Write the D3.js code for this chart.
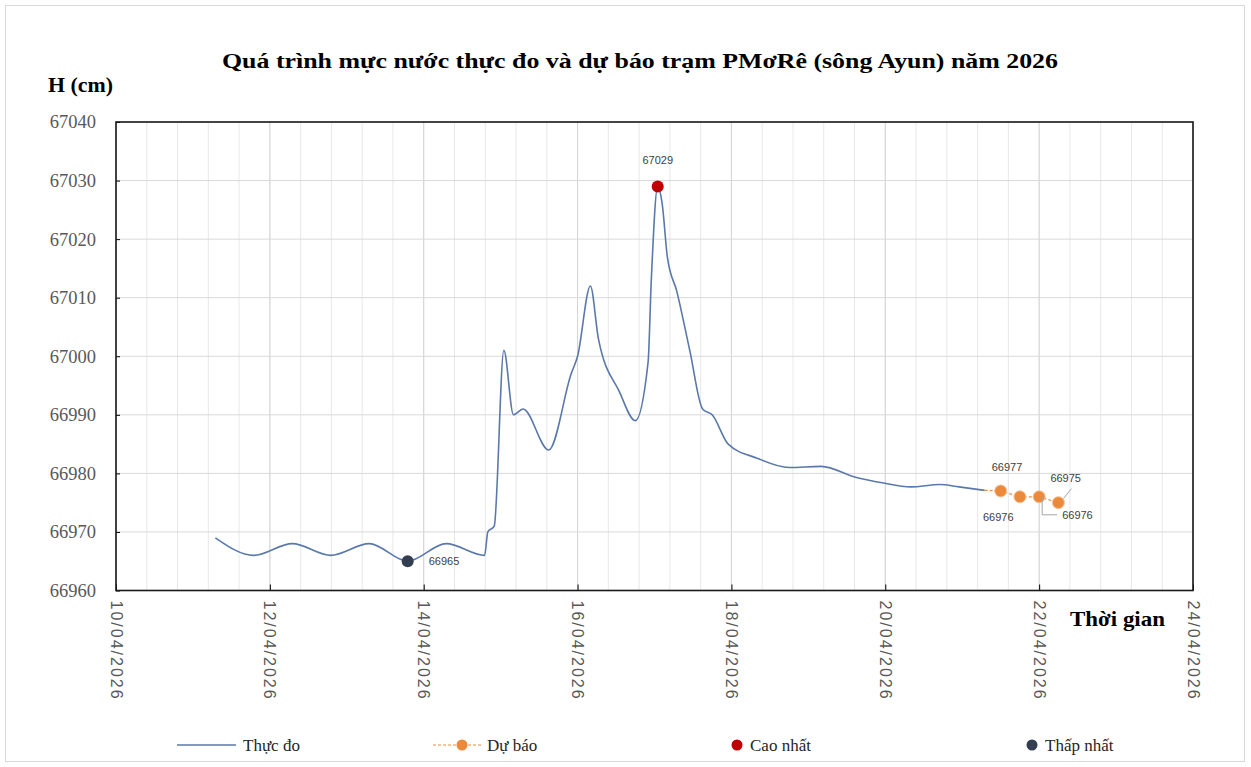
<!DOCTYPE html>
<html lang="vi">
<head>
<meta charset="UTF-8">
<title>Quá trình mực nước trạm PMơRê</title>
<script src="https://cdnjs.cloudflare.com/ajax/libs/d3/7.8.5/d3.min.js"></script>
<style>
    body { margin: 0; padding: 0; background: #ffffff; }
    svg { display: block; }
    .serif { font-family: "Liberation Serif", "Times New Roman", serif; }
    .tick-y { font-size: 18.5px; fill: #595959; }
    .tick-x { font-family: "Liberation Sans", Arial, sans-serif; font-size: 16px; fill: #595959; letter-spacing: 2px; }
    .pt-label { font-family: "Liberation Sans", Arial, sans-serif; font-size: 11px; fill: #404040; }
    .legend-text { font-size: 17px; fill: #262626; }
</style>
</head>
<body>
<svg width="1251" height="767"></svg>
<script>
// observed water level (thời gian: [ngày, giờ] tháng 4/2026)
const obsTimes = [
    [11, 7], [11, 19], [12, 7], [12, 19], [13, 7], [13, 19], [14, 7], [14, 19], [14, 20], [14, 22],
    [15, 1], [15, 4], [15, 7], [15, 15], [15, 22], [16, 0], [16, 4], [16, 6.5], [16, 13], [16, 18],
    [16, 22], [16, 23], [17, 1], [17, 2.4], [17, 4], [17, 7], [17, 11], [17, 15], [17, 18], [17, 23],
    [18, 8], [18, 18], [19, 4], [19, 15], [19, 23], [20, 8], [20, 17], [20, 23], [21, 7]
];
const obsValues = [
    66969, 66966, 66968, 66966, 66968, 66965, 66968, 66966, 66970, 66971,
    67001, 66990, 66991, 66984, 66997, 67000, 67012, 67003, 66994, 66989,
    66999, 67013, 67029, 67026, 67017, 67011, 67001, 66991, 66990, 66985,
    66982.6, 66981, 66981.2, 66979.3, 66978.4, 66977.7, 66978.1, 66977.7, 66977.1
];
// forecast
const fcTimes = [[21, 12], [21, 18], [22, 0], [22, 6]];
const fcValues = [66977, 66976, 66976, 66975];
// extremes
const maxPoint = { t: [17, 1], v: 67029 };
const minPoint = { t: [13, 19], v: 66965 };

const yTicks = [66960, 66970, 66980, 66990, 67000, 67010, 67020, 67030, 67040];
const xTickDays = [10, 12, 14, 16, 18, 20, 22, 24];

const toDate = ([d, h]) => new Date(2026, 3, d, 0, 0).getTime() + h * 3600e3;

const svg = d3.select("svg");
const pLeft = 116, pRight = 1193, pTop = 122, pBottom = 590.5;

const x = d3.scaleTime()
    .domain([new Date(2026, 3, 10), new Date(2026, 3, 24)])
    .range([pLeft, pRight]);
const y = d3.scaleLinear().domain([66960, 67040]).range([pBottom, pTop]);

// outer frame
svg.append("rect").attr("x", 5.5).attr("y", 5.5).attr("width", 1239).attr("height", 756)
    .attr("fill", "#fff").attr("stroke", "#d9d9d9");

// minor vertical gridlines (every 0.4 day)
const minor = d3.range(0, 14.001, 0.4).map(k => new Date(2026, 3, 10).getTime() + k * 86400e3);
svg.append("g").selectAll("line").data(minor).join("line")
    .attr("x1", d => x(d)).attr("x2", d => x(d))
    .attr("y1", pTop).attr("y2", pBottom)
    .attr("stroke", "#e8e8e8").attr("stroke-width", 1);

// major vertical gridlines
svg.append("g").selectAll("line").data(xTickDays).join("line")
    .attr("x1", d => x(new Date(2026, 3, d))).attr("x2", d => x(new Date(2026, 3, d)))
    .attr("y1", pTop).attr("y2", pBottom)
    .attr("stroke", "#d4d4d4").attr("stroke-width", 1);

// horizontal gridlines
svg.append("g").selectAll("line").data(yTicks).join("line")
    .attr("x1", pLeft).attr("x2", pRight)
    .attr("y1", d => y(d)).attr("y2", d => y(d))
    .attr("stroke", "#d9d9d9").attr("stroke-width", 1);

// axes via d3
const yAxis = d3.axisLeft(y).tickValues(yTicks).tickSize(-4).tickPadding(20).tickFormat(d3.format("d"));
const gy = svg.append("g").attr("transform", `translate(${pLeft},0)`).call(yAxis);
gy.select(".domain").remove();
gy.selectAll(".tick line").attr("stroke", "#000");
gy.selectAll("text").attr("class", "serif tick-y");
gy.attr("font-size", null).attr("font-family", null);

const xAxis = d3.axisBottom(x).tickValues(xTickDays.map(d => new Date(2026, 3, d)))
    .tickSize(-6).tickFormat(d3.timeFormat("%d/%m/%Y"));
const gx = svg.append("g").attr("transform", `translate(0,${pBottom})`).call(xAxis);
gx.select(".domain").remove();
gx.attr("font-size", null).attr("font-family", null);
gx.selectAll(".tick line").attr("stroke", "#000");
gx.selectAll("text").attr("class", "tick-x")
    .attr("text-anchor", "start").attr("dy", null).attr("y", 0)
    .attr("transform", "translate(-6,10) rotate(90)");

// plot border
svg.append("rect").attr("x", pLeft).attr("y", pTop).attr("width", pRight - pLeft).attr("height", pBottom - pTop)
    .attr("fill", "none").attr("stroke", "#1a1a1a").attr("stroke-width", 1.6);

// observed line
const obs = obsTimes.map((t, i) => ({ t: toDate(t), v: obsValues[i] }));
const line = d3.line().x(d => x(d.t)).y(d => y(d.v)).curve(d3.curveMonotoneX);
svg.append("path").datum(obs).attr("d", line)
    .attr("fill", "none").attr("stroke", "#5a79aa").attr("stroke-width", 1.6);

// forecast line (joined to last observation)
const fc = fcTimes.map((t, i) => ({ t: toDate(t), v: fcValues[i] }));
svg.append("path").datum([obs[obs.length - 1], ...fc]).attr("d", d3.line().x(d => x(d.t)).y(d => y(d.v)))
    .attr("fill", "none").attr("stroke", "#ed8b3f").attr("stroke-width", 1.2).attr("stroke-dasharray", "3,2");
svg.append("g").selectAll("circle").data(fc).join("circle")
    .attr("cx", d => x(d.t)).attr("cy", d => y(d.v)).attr("r", 6)
    .attr("fill", "#ec8a3c").attr("stroke", "#f6c49a").attr("stroke-width", 1);

// forecast labels
const fcLab = [
    { dx: -9, dy: -20, anchor: "start" },
    { dx: -37, dy: 24, anchor: "start" },
    { dx: 23, dy: 22, anchor: "start", leader: [[3, 0], [3, 18], [18, 18]] },
    { dx: -8, dy: -21, anchor: "start", leader: [[5, -4], [13, -14]] }
];
fc.forEach((d, i) => {
    const px = x(d.t), py = y(d.v), o = fcLab[i];
    if (o.leader) {
        svg.append("polyline")
            .attr("points", o.leader.map(p => `${px + p[0]},${py + p[1]}`).join(" "))
            .attr("fill", "none").attr("stroke", "#a6a6a6").attr("stroke-width", 1);
    }
    svg.append("text").attr("class", "pt-label")
        .attr("x", px + o.dx).attr("y", py + o.dy).attr("text-anchor", o.anchor)
        .text(d3.format("d")(d.v));
});

// max / min markers
const mx = { t: toDate(maxPoint.t), v: maxPoint.v };
const mn = { t: toDate(minPoint.t), v: minPoint.v };
svg.append("circle").attr("cx", x(mx.t)).attr("cy", y(mx.v)).attr("r", 6).attr("fill", "#c00000");
svg.append("text").attr("class", "pt-label").attr("x", x(mx.t)).attr("y", y(mx.v) - 22)
    .attr("text-anchor", "middle").text(mx.v);
svg.append("circle").attr("cx", x(mn.t)).attr("cy", y(mn.v)).attr("r", 6).attr("fill", "#333f50");
svg.append("text").attr("class", "pt-label").attr("x", x(mn.t) + 21).attr("y", y(mn.v) + 4)
    .text(mn.v);

// titles
svg.append("text").attr("class", "serif").attr("x", 222).attr("y", 68)
    .attr("font-size", 22).attr("font-weight", "bold").attr("fill", "#000")
    .attr("textLength", 836).attr("lengthAdjust", "spacingAndGlyphs")
    .text("Quá trình mực nước thực đo và dự báo trạm PMơRê (sông Ayun) năm 2026");
svg.append("text").attr("class", "serif").attr("x", 48).attr("y", 92)
    .attr("font-size", 20).attr("font-weight", "bold").attr("fill", "#000")
    .attr("textLength", 65).attr("lengthAdjust", "spacingAndGlyphs").text("H (cm)");
svg.append("text").attr("class", "serif").attr("x", 1070).attr("y", 626)
    .attr("font-size", 21).attr("font-weight", "bold").attr("fill", "#000")
    .attr("textLength", 95).attr("lengthAdjust", "spacingAndGlyphs").text("Thời gian");

// legend
const ly = 745;
const lg = svg.append("g").attr("class", "serif");
lg.append("line").attr("x1", 177).attr("x2", 236).attr("y1", ly).attr("y2", ly)
    .attr("stroke", "#5a79aa").attr("stroke-width", 1.6);
lg.append("text").attr("class", "legend-text").attr("x", 243).attr("y", ly + 6).text("Thực đo");
lg.append("line").attr("x1", 433).attr("x2", 482).attr("y1", ly).attr("y2", ly)
    .attr("stroke", "#ed8b3f").attr("stroke-width", 1.2).attr("stroke-dasharray", "3,2");
lg.append("circle").attr("cx", 462).attr("cy", ly).attr("r", 5.5).attr("fill", "#ec8a3c");
lg.append("text").attr("class", "legend-text").attr("x", 487).attr("y", ly + 6).text("Dự báo");
lg.append("circle").attr("cx", 737).attr("cy", ly).attr("r", 5.5).attr("fill", "#c00000");
lg.append("text").attr("class", "legend-text").attr("x", 750).attr("y", ly + 6).text("Cao nhất");
lg.append("circle").attr("cx", 1032).attr("cy", ly).attr("r", 5.5).attr("fill", "#333f50");
lg.append("text").attr("class", "legend-text").attr("x", 1045).attr("y", ly + 6).text("Thấp nhất");
</script>
</body>
</html>
